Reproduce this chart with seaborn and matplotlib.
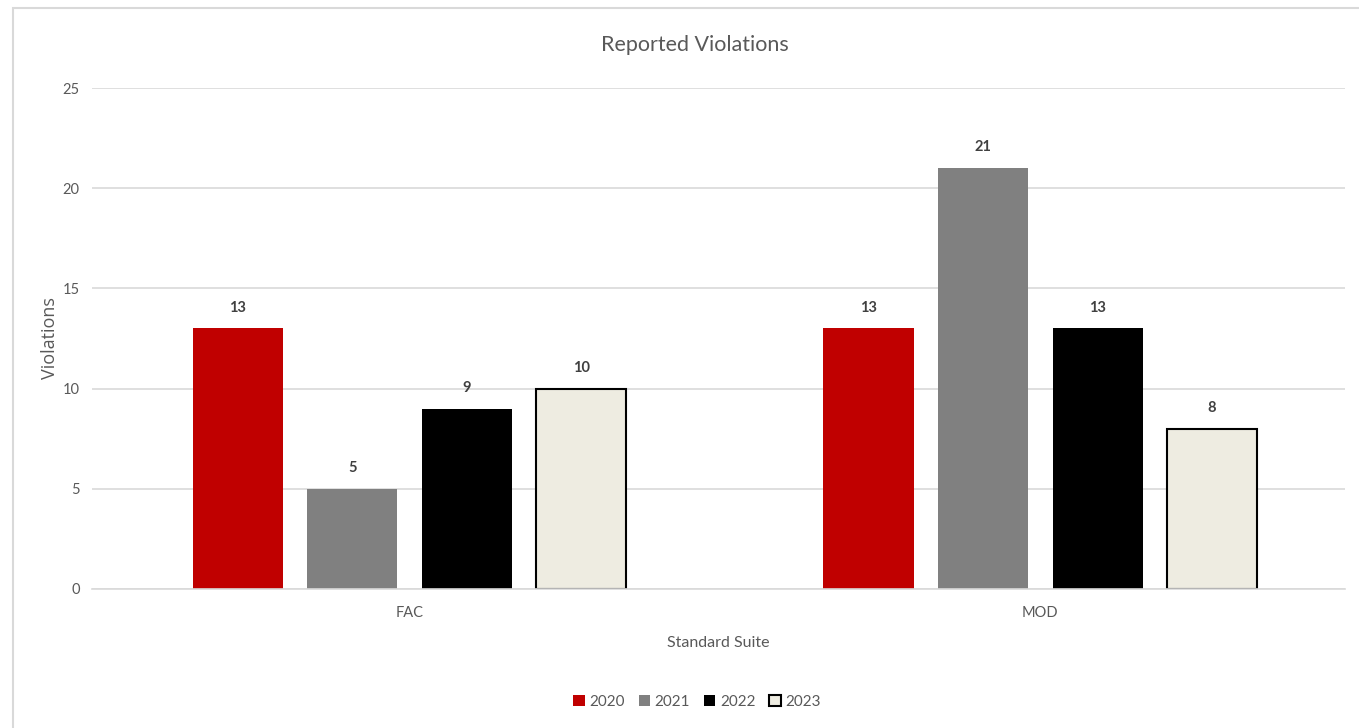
import matplotlib
matplotlib.use("Agg")
import matplotlib.pyplot as plt
from matplotlib.patches import Rectangle
import seaborn as sns
import pandas as pd

# Reported violations per standard suite and year
suites = ["FAC", "MOD"]
years = ["2020", "2021", "2022", "2023"]
violations_2020 = [13, 13]
violations_2021 = [5, 21]
violations_2022 = [9, 13]
violations_2023 = [10, 8]
y_ticks = [0, 5, 10, 15, 20, 25]

colors = ["#C00000", "#808080", "#000000", "#EEECE1"]

rows = []
for year, vals in zip(years, [violations_2020, violations_2021, violations_2022, violations_2023]):
    for suite, v in zip(suites, vals):
        rows.append({"suite": suite, "year": year, "count": v})
df = pd.DataFrame(rows)

sns.set_theme(style="white")
plt.rcParams["font.family"] = ["Lato", "DejaVu Sans"]

fig = plt.figure(figsize=(13.59, 7.28), dpi=100)
ax = fig.add_axes([92 / 1359, 1 - 589 / 728, (1345 - 92) / 1359, (589 - 88) / 728])

sns.barplot(data=df, x="suite", y="count", hue="year", order=suites, hue_order=years,
            palette=colors, width=0.726, gap=0.214, linewidth=0, saturation=1,
            ax=ax, legend=False)

# outline the light bars
for bar in ax.containers[3]:
    bar.set_edgecolor("#000000")
    bar.set_linewidth(1.5)

for cont in ax.containers:
    ax.bar_label(cont, padding=10, fontsize=10.5, fontweight="bold", color="#404040")

ax.set_ylim(0, 25)
ax.set_xlim(-0.503, 1.483)
ax.set_yticks(y_ticks)
ax.yaxis.grid(True, color="#D9D9D9", linewidth=1.2)
ax.set_axisbelow(True)
for s in ["top", "right", "left"]:
    ax.spines[s].set_visible(False)
ax.spines["bottom"].set_color("#D9D9D9")
ax.spines["bottom"].set_linewidth(1.2)
ax.tick_params(axis="both", length=0, labelsize=10.5, labelcolor="#595959")
ax.tick_params(axis="y", pad=9)
ax.tick_params(axis="x", pad=12)

ax.set_xlabel("Standard Suite", fontsize=11.5, color="#595959", labelpad=12)
ax.set_ylabel("Violations", fontsize=13, color="#595959", labelpad=2.5,
              family=["Open Sans", "DejaVu Sans"])
fig.text(695 / 1359, 1 - 45 / 728, "Reported Violations", ha="center", va="center",
         fontsize=15.5, color="#595959")

handles = [Rectangle((0, 0), 1, 1, facecolor=c,
                     edgecolor="#000000" if i == 3 else c, linewidth=1.5 if i == 3 else 0)
           for i, c in enumerate(colors)]
fig.legend(handles, years, loc="center", bbox_to_anchor=(697 / 1359, 1 - 702 / 728), ncol=4,
           frameon=False, handlelength=0.75, handleheight=0.75, handletextpad=0.3,
           columnspacing=0.9, fontsize=11, labelcolor="#595959")

# chart border
fig.patches.append(Rectangle((13 / 1359, -0.05), 1.2, 1 - 8 / 728 + 0.05, transform=fig.transFigure,
                             fill=False, edgecolor="#D9D9D9", linewidth=1.5))

fig.savefig("out.png", dpi=100)
